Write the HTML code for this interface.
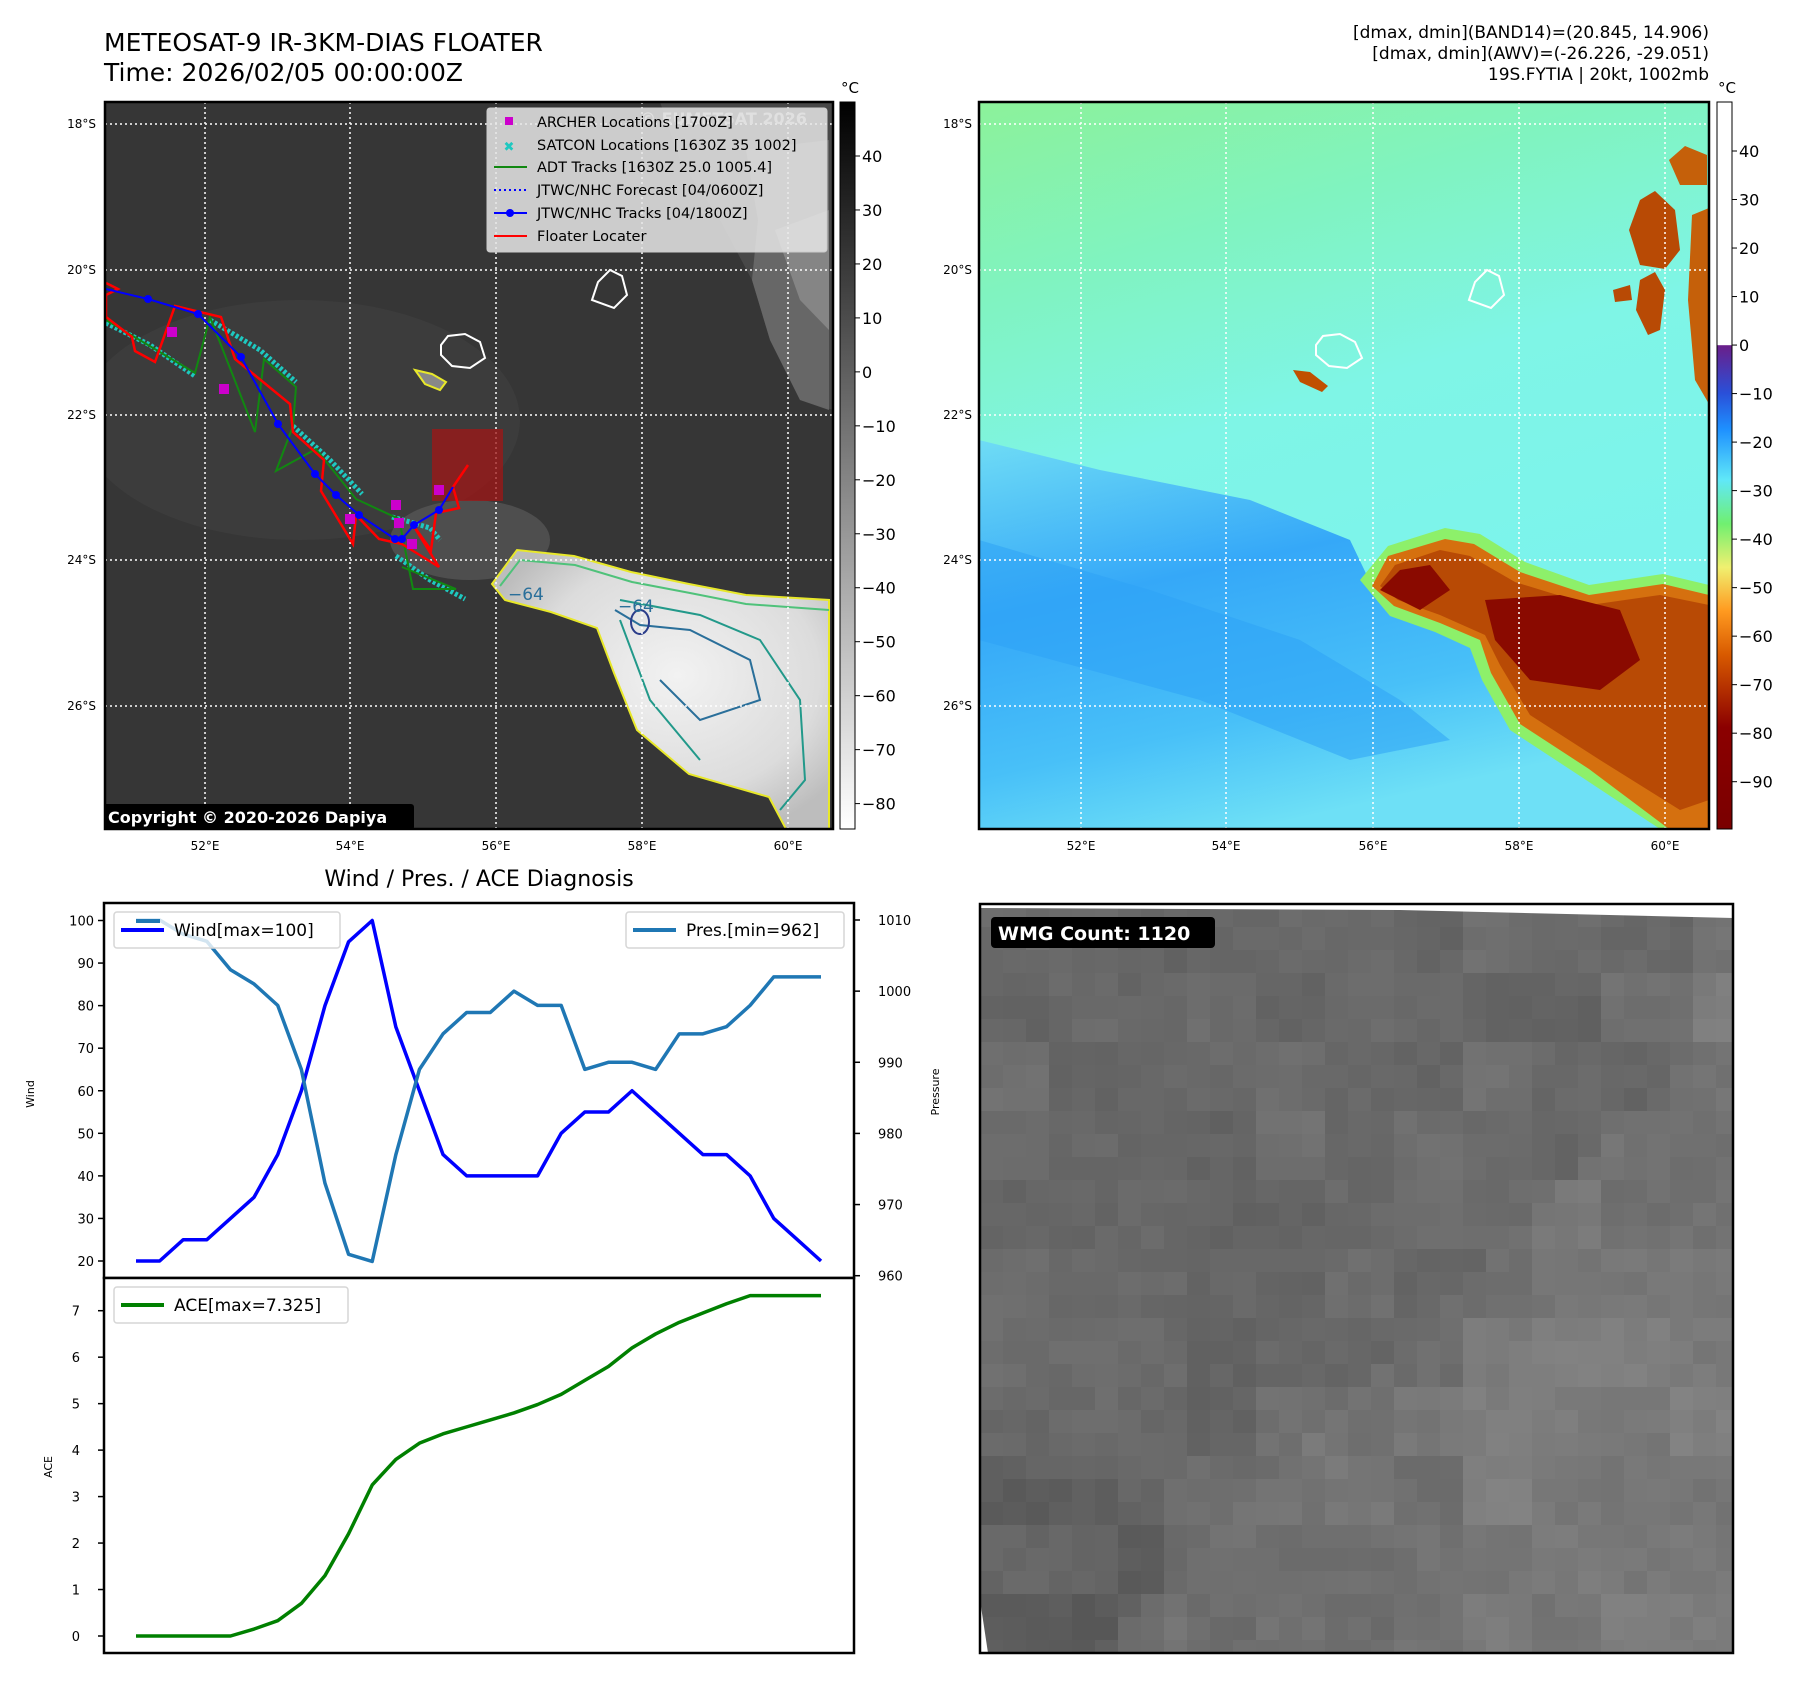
<!DOCTYPE html>
<html><head><meta charset="utf-8">
<style>
html,body{margin:0;padding:0;background:#fff;}
svg{display:block;font-family:"DejaVu Sans","Liberation Sans",sans-serif;}
</style></head>
<body>
<svg id="root" width="1797" height="1690" viewBox="0 0 1797 1690" xmlns="http://www.w3.org/2000/svg">
<defs>
  <linearGradient id="cb1" x1="0" y1="0" x2="0" y2="1">
    <stop offset="0" stop-color="#000"/><stop offset="1" stop-color="#fff"/>
  </linearGradient>
  <linearGradient id="cb2" x1="0" y1="0" x2="0" y2="1">
    <stop offset="0" stop-color="#fff"/><stop offset="0.334" stop-color="#fff"/>
    <stop offset="0.335" stop-color="#6a1f8a"/><stop offset="0.40" stop-color="#2a4fd8"/>
    <stop offset="0.45" stop-color="#1e90ff"/><stop offset="0.52" stop-color="#60e8f8"/>
    <stop offset="0.58" stop-color="#70f070"/><stop offset="0.64" stop-color="#f0f070"/>
    <stop offset="0.70" stop-color="#ff9a20"/><stop offset="0.76" stop-color="#d85a00"/>
    <stop offset="0.86" stop-color="#8b0000"/><stop offset="1" stop-color="#7a0000"/>
  </linearGradient>
  <linearGradient id="bg2" x1="0" y1="0" x2="0.3" y2="1">
    <stop offset="0" stop-color="#8cf29a"/><stop offset="0.25" stop-color="#80f3c0"/>
    <stop offset="0.5" stop-color="#7ff5e6"/><stop offset="1" stop-color="#7af2f0"/>
  </linearGradient>
  <linearGradient id="blue2" x1="0" y1="0" x2="0.4" y2="1">
    <stop offset="0" stop-color="#6fdcf5"/><stop offset="0.4" stop-color="#35a8f8"/>
    <stop offset="0.75" stop-color="#48c0f8"/><stop offset="1" stop-color="#6ee0f6"/>
  </linearGradient>
  <radialGradient id="cloud1" cx="0.55" cy="0.45" r="0.6">
    <stop offset="0" stop-color="#f2f2f2"/><stop offset="0.7" stop-color="#dcdcdc"/><stop offset="1" stop-color="#bdbdbd"/>
  </radialGradient>
  <clipPath id="clip1"><rect x="105" y="102" width="728" height="727"/></clipPath>
  <clipPath id="clip2"><rect x="979" y="102" width="730" height="727"/></clipPath>
  <clipPath id="clip3"><rect x="980" y="904" width="753" height="749"/></clipPath>
</defs>

<!-- Titles -->
<text x="104" y="51" font-size="25" fill="#000">METEOSAT-9 IR-3KM-DIAS FLOATER</text>
<text x="104" y="81" font-size="25" fill="#000">Time: 2026/02/05 00:00:00Z</text>
<g font-size="17" text-anchor="end" fill="#000">
  <text x="1709" y="38">[dmax, dmin](BAND14)=(20.845, 14.906)</text>
  <text x="1709" y="59">[dmax, dmin](AWV)=(-26.226, -29.051)</text>
  <text x="1709" y="80">19S.FYTIA | 20kt, 1002mb</text>
</g>

<!-- MAP 1 (IR gray) -->
<g id="map1">
  <g clip-path="url(#clip1)">
    <rect x="105" y="102" width="728" height="727" fill="#363636"/>
    <ellipse cx="300" cy="420" rx="220" ry="120" fill="#3e3e3e" opacity="0.7"/>
    <ellipse cx="470" cy="540" rx="80" ry="40" fill="#555" opacity="0.8"/>
    <path d="M660,102 L833,102 L833,410 L800,400 L770,340 L752,280 L720,220 L680,160 Z" fill="#4a4a4a" opacity="0.9"/>
    <path d="M746,150 L829,140 L829,410 L800,400 L770,340 L752,280 L758,220 Z" fill="#6a6a6a" opacity="0.9"/>
    <path d="M775,230 L829,210 L829,330 L800,300 Z" fill="#9a9a9a" opacity="0.6"/>
    <path d="M492,584 L517,550 L574,556 L631,572 L689,584 L746,595 L829,600 L829,829 L786,829 L769,797 L689,774 L637,730 L614,673 L597,628 L551,612 L505,600 Z" fill="url(#cloud1)" stroke="#e8e82a" stroke-width="2"/>
    <path d="M500,586 L520,560 L575,565 L632,582 L690,593 L746,604 L829,610" fill="none" stroke="#4fc27a" stroke-width="2"/>
    <path d="M620,600 L700,615 L760,640 L800,700 L805,780 L780,810 M620,620 L650,700 L700,760" fill="none" stroke="#22998a" stroke-width="2"/>
    <path d="M615,610 L640,625 L690,630 L750,660 L760,700 L700,720 L660,680" fill="none" stroke="#2a6f9a" stroke-width="2"/>
    <ellipse cx="640" cy="622" rx="9" ry="12" fill="none" stroke="#2b3d8a" stroke-width="2"/>
    <text x="508" y="600" font-size="17" fill="#2a6f9a">−64</text>
    <text x="618" y="612" font-size="17" fill="#2a6f9a">−64</text>
    <path d="M441,345 L448,336 L465,334 L480,342 L485,358 L470,368 L452,366 L441,355 Z" fill="none" stroke="#fff" stroke-width="2"/>
    <path d="M592,300 L598,282 L610,270 L622,276 L627,295 L614,308 Z" fill="none" stroke="#fff" stroke-width="2"/>
    <path d="M415,370 L432,374 L446,382 L440,390 L425,384 Z" fill="#888" stroke="#e8e82a" stroke-width="2"/>
    <g stroke="#fff" stroke-width="1.5" stroke-dasharray="2,3">
      <line x1="205" y1="102" x2="205" y2="829"/><line x1="350" y1="102" x2="350" y2="829"/>
      <line x1="496" y1="102" x2="496" y2="829"/><line x1="642" y1="102" x2="642" y2="829"/>
      <line x1="788" y1="102" x2="788" y2="829"/>
      <line x1="105" y1="124" x2="833" y2="124"/><line x1="105" y1="270" x2="833" y2="270"/>
      <line x1="105" y1="415" x2="833" y2="415"/><line x1="105" y1="560" x2="833" y2="560"/>
      <line x1="105" y1="706" x2="833" y2="706"/>
    </g>
    <rect x="432" y="429" width="71" height="72" fill="#a01515" opacity="0.75"/>
    <g fill="none" stroke="#1ec8c0" stroke-width="5" stroke-dasharray="3,2">
      <polyline points="106,323 150,345 195,376"/>
      <polyline points="210,320 260,350 296,382"/>
      <polyline points="293,426 330,460 362,494"/>
      <polyline points="396,556 430,580 465,599"/>
      <polyline points="392,517 410,522 430,528 440,540"/>
    </g>
    <polyline fill="none" stroke="#118811" stroke-width="2" points="106,320 195,373 210,317 255,432 264,359 296,387 293,426 276,471 316,449 356,499 399,519 413,589 456,589 402,567"/>
    <polyline fill="none" stroke="#ff0000" stroke-width="2.5" points="106,283 118,289 106,295 106,317 132,337 135,351 155,362 175,306 221,317 235,359 290,404 293,432 324,460 321,491 353,544 356,515 379,539 402,544 439,567 413,525 431,550 436,513 459,508 453,487 468,465"/>
    <polyline fill="none" stroke="#0000ff" stroke-width="2" points="106,289 148,299 198,314 241,357 278,424 315,474 336,495 359,515 395,539 402,539 414,525 439,510 453,487"/>
    <g fill="#0000ff">
      <circle cx="148" cy="299" r="4"/><circle cx="198" cy="314" r="4"/><circle cx="241" cy="357" r="4"/>
      <circle cx="278" cy="424" r="4"/><circle cx="315" cy="474" r="4"/><circle cx="336" cy="495" r="4"/>
      <circle cx="359" cy="515" r="4"/><circle cx="395" cy="539" r="4"/><circle cx="402" cy="539" r="4"/>
      <circle cx="414" cy="525" r="4"/><circle cx="439" cy="510" r="4"/>
    </g>
    <g fill="#cc00cc">
      <rect x="167" y="327" width="10" height="10"/><rect x="219" y="384" width="10" height="10"/>
      <rect x="391" y="500" width="10" height="10"/><rect x="434" y="485" width="10" height="10"/>
      <rect x="394" y="518" width="10" height="10"/><rect x="407" y="539" width="10" height="10"/>
      <rect x="345" y="514" width="10" height="10"/>
    </g>
    <text x="640" y="124" font-size="16" font-weight="bold" fill="#bbb">© EUMETSAT 2026</text>
    <g>
      <rect x="487" y="108" width="340" height="144" rx="3" fill="#e6e6e6" fill-opacity="0.85" stroke="#ccc"/>
      <rect x="505" y="117" width="8" height="8" fill="#cc00cc"/>
      <text x="509" y="151" font-size="13" fill="#1ec8c0" text-anchor="middle" font-weight="bold">✖</text>
      <line x1="494" y1="167" x2="527" y2="167" stroke="#118811" stroke-width="2"/>
      <line x1="494" y1="190" x2="527" y2="190" stroke="#0000ff" stroke-width="2" stroke-dasharray="2,3"/>
      <line x1="494" y1="213" x2="527" y2="213" stroke="#0000ff" stroke-width="2"/><circle cx="510" cy="213" r="4" fill="#0000ff"/>
      <line x1="494" y1="236" x2="527" y2="236" stroke="#ff0000" stroke-width="2"/>
      <g font-size="14.5" fill="#000">
        <text x="537" y="127">ARCHER Locations [1700Z]</text>
        <text x="537" y="150">SATCON Locations [1630Z 35 1002]</text>
        <text x="537" y="172">ADT Tracks [1630Z 25.0 1005.4]</text>
        <text x="537" y="195">JTWC/NHC Forecast [04/0600Z]</text>
        <text x="537" y="218">JTWC/NHC Tracks [04/1800Z]</text>
        <text x="537" y="241">Floater Locater</text>
      </g>
    </g>
    <rect x="102" y="804" width="312" height="26" rx="3" fill="#000"/>
    <text x="108" y="823" font-size="16" font-weight="bold" fill="#fff">Copyright © 2020-2026 Dapiya</text>
  </g>
  <rect x="105" y="102" width="728" height="727" fill="none" stroke="#000" stroke-width="2.5"/>
  <g font-size="12" fill="#000" text-anchor="end">
    <text x="96" y="128">18°S</text><text x="96" y="274">20°S</text><text x="96" y="419">22°S</text>
    <text x="96" y="564">24°S</text><text x="96" y="710">26°S</text>
  </g>
  <g font-size="12" fill="#000" text-anchor="middle">
    <text x="205" y="850">52°E</text><text x="350" y="850">54°E</text><text x="496" y="850">56°E</text>
    <text x="642" y="850">58°E</text><text x="788" y="850">60°E</text>
  </g>
  <rect x="840" y="102" width="15" height="727" fill="url(#cb1)" stroke="#000" stroke-width="1"/>
  <text x="850" y="93" font-size="15" text-anchor="middle">°C</text>
  <g id="cb1ticks" font-size="16" fill="#000"></g>
</g>

<!-- MAP 2 -->
<g id="map2">
  <g clip-path="url(#clip2)">
    <rect x="979" y="102" width="730" height="727" fill="url(#bg2)"/>
    <path d="M979,440 L1100,470 L1250,500 L1350,540 L1372,586 L1394,606 L1440,623 L1480,640 L1491,673 L1520,724 L1589,769 L1669,829 L979,829 Z" fill="url(#blue2)"/>
    <path d="M979,540 L1150,590 L1300,640 L1400,700 L1450,740 L1350,760 L1200,700 L979,640 Z" fill="#2ea2f6" opacity="0.55"/>
    <path d="M1360,580 L1388,546 L1445,528 L1480,534 L1525,562 L1589,585 L1663,574 L1709,585 L1709,829 L1660,829 L1580,776 L1510,730 L1482,680 L1470,648 L1435,632 L1390,616 Z" fill="#8df06a"/>
    <path d="M1372,586 L1388,556 L1445,539 L1474,544 L1520,572 L1589,595 L1663,584 L1709,595 L1709,829 L1669,829 L1589,769 L1520,724 L1491,673 L1480,640 L1440,623 L1394,606 Z" fill="#d5700f"/>
    <path d="M1380,586 L1395,565 L1440,550 L1470,556 L1515,582 L1590,605 L1660,595 L1709,605 L1709,800 L1680,810 L1600,760 L1530,715 L1500,665 L1485,635 L1440,615 L1398,600 Z" fill="#b84a05"/>
    <path d="M1485,600 L1560,595 L1620,610 L1640,660 L1600,690 L1530,680 L1495,640 Z" fill="#8a0a00"/>
    <path d="M1380,590 L1400,570 L1430,565 L1450,590 L1420,610 Z" fill="#8a0a00"/>
    <path d="M1629,230 L1640,200 L1655,191 L1675,210 L1680,250 L1665,269 L1640,265 Z" fill="#b84a05"/>
    <path d="M1669,160 L1685,146 L1707,155 L1707,185 L1680,185 Z" fill="#c5600a"/>
    <path d="M1692,215 L1709,208 L1709,404 L1695,380 L1688,300 Z" fill="#c5600a"/>
    <path d="M1640,280 L1655,272 L1665,290 L1660,330 L1648,335 L1636,310 Z" fill="#b84a05"/>
    <path d="M1613,290 L1630,285 L1632,300 L1615,302 Z" fill="#b84a05"/>
    <path d="M1293,370 L1310,372 L1328,386 L1322,392 L1300,382 Z" fill="#c05000"/>
    <path d="M1316,345 L1323,336 L1340,334 L1355,342 L1362,358 L1347,368 L1329,366 L1316,355 Z" fill="none" stroke="#fff" stroke-width="2"/>
    <path d="M1469,300 L1475,282 L1487,270 L1499,276 L1504,295 L1491,308 Z" fill="none" stroke="#fff" stroke-width="2"/>
    <g stroke="#fff" stroke-width="1.5" stroke-dasharray="2,3">
      <line x1="1081" y1="102" x2="1081" y2="829"/><line x1="1226" y1="102" x2="1226" y2="829"/>
      <line x1="1373" y1="102" x2="1373" y2="829"/><line x1="1519" y1="102" x2="1519" y2="829"/>
      <line x1="1665" y1="102" x2="1665" y2="829"/>
      <line x1="979" y1="124" x2="1709" y2="124"/><line x1="979" y1="270" x2="1709" y2="270"/>
      <line x1="979" y1="415" x2="1709" y2="415"/><line x1="979" y1="560" x2="1709" y2="560"/>
      <line x1="979" y1="706" x2="1709" y2="706"/>
    </g>
  </g>
  <rect x="979" y="102" width="730" height="727" fill="none" stroke="#000" stroke-width="2.5"/>
  <g font-size="12" fill="#000" text-anchor="end">
    <text x="972" y="128">18°S</text><text x="972" y="274">20°S</text><text x="972" y="419">22°S</text>
    <text x="972" y="564">24°S</text><text x="972" y="710">26°S</text>
  </g>
  <g font-size="12" fill="#000" text-anchor="middle">
    <text x="1081" y="850">52°E</text><text x="1226" y="850">54°E</text><text x="1373" y="850">56°E</text>
    <text x="1519" y="850">58°E</text><text x="1665" y="850">60°E</text>
  </g>
  <rect x="1717" y="102" width="15" height="727" fill="url(#cb2)" stroke="#000" stroke-width="1"/>
  <text x="1727" y="93" font-size="15" text-anchor="middle">°C</text>
  <g id="cb2ticks" font-size="16" fill="#000"></g>
</g>

<text x="479" y="886" font-size="22" text-anchor="middle">Wind / Pres. / ACE Diagnosis</text>
<g id="chart"></g>

<g>
  <rect x="980" y="904" width="753" height="749" fill="#fff"/>
  <g id="wmg" clip-path="url(#clip3)"></g>
  <rect x="980" y="904" width="753" height="749" fill="none" stroke="#000" stroke-width="2.5"/>
  <rect x="991" y="917" width="224" height="31" rx="4" fill="#000"/>
  <text x="998" y="940" font-size="19" font-weight="bold" fill="#fff">WMG Count: 1120</text>
</g>
</svg>
<script>
const steps = [0,1,2,3,4,5,6,7,8,9,10,11,12,13,14,15,16,17,18,19,20,21,22,23,24,25,26,27,28,29];
const windValues = [20,20,25,25,30,35,45,60,80,95,100,75,60,45,40,40,40,40,50,55,55,60,55,50,45,45,40,30,25,20];
const presValues = [1010,1010,1008,1007,1003,1001,998,989,973,963,962,977,989,994,997,997,1000,998,998,989,990,990,989,994,994,995,998,1002,1002,1002];
const aceValues = [0,0,0,0,0,0.15,0.33,0.7,1.3,2.2,3.25,3.8,4.15,4.35,4.5,4.65,4.8,4.98,5.2,5.5,5.8,6.2,6.5,6.75,6.95,7.15,7.325,7.325,7.325,7.325];
const windTicks = [20,30,40,50,60,70,80,90,100];
const presTicks = [960,970,980,990,1000,1010];
const aceTicks = [0,1,2,3,4,5,6,7];
const cb1TickLabels = [40,30,20,10,0,-10,-20,-30,-40,-50,-60,-70,-80];
const cb2TickLabels = [40,30,20,10,0,-10,-20,-30,-40,-50,-60,-70,-80,-90];

const NS = 'http://www.w3.org/2000/svg';
function mk(tag, attrs, parent){ const e=document.createElementNS(NS,tag); for(const k in attrs) e.setAttribute(k,attrs[k]); parent.appendChild(e); return e; }

const xScale = i => 136 + i * (821-136)/(steps.length-1);
const yWind = v => 1261 - (v-20) * (1261-920.5)/80;
const yPres = v => 1275.7 - (v-960) * (1275.7-920)/50;
const yAce = v => 1636 - v * (1636-1310.7)/7;
const yCb1 = v => 156 + (40 - v) * (803.6-156)/120;
const yCb2 = v => 151 + (40 - v) * (781.7-151)/130;

const cb1g = document.getElementById('cb1ticks');
cb1TickLabels.forEach(v=>{
  mk('line',{x1:855,x2:860,y1:yCb1(v),y2:yCb1(v),stroke:'#000'},cb1g);
  const t=mk('text',{x:862,y:yCb1(v)+6},cb1g); t.textContent=(v<0?'−'+(-v):v);
  
  
});
const cb2g = document.getElementById('cb2ticks');
cb2TickLabels.forEach(v=>{
  mk('line',{x1:1732,x2:1737,y1:yCb2(v),y2:yCb2(v),stroke:'#000'},cb2g);
  const t=mk('text',{x:1739,y:yCb2(v)+6},cb2g); t.textContent=(v<0?'−'+(-v):v);
  
  
});

const ch = document.getElementById('chart');
mk('rect',{x:104,y:903,width:750,height:375,fill:'#fff',stroke:'#000','stroke-width':2.5},ch);
mk('rect',{x:104,y:1278,width:750,height:375,fill:'#fff',stroke:'#000','stroke-width':2.5},ch);
windTicks.forEach(v=>{
  mk('line',{x1:98,x2:104,y1:yWind(v),y2:yWind(v),stroke:'#000','stroke-width':1.5},ch);
  const t=mk('text',{x:94,y:yWind(v)+5,'font-size':13,'text-anchor':'end'},ch); t.textContent=v;
  
  
});
presTicks.forEach(v=>{
  mk('line',{x1:854,x2:860,y1:yPres(v),y2:yPres(v),stroke:'#000','stroke-width':1.5},ch);
  const t=mk('text',{x:878,y:yPres(v)+5,'font-size':13},ch); t.textContent=v;
  
  
});
aceTicks.forEach(v=>{
  mk('line',{x1:98,x2:104,y1:yAce(v),y2:yAce(v),stroke:'#000','stroke-width':1.5},ch);
  const t=mk('text',{x:80,y:yAce(v)+5,'font-size':13,'text-anchor':'end'},ch); t.textContent=v;
  
  
});
let t1=mk('text',{x:0,y:0,'font-size':11,'text-anchor':'middle',transform:'translate(34,1094) rotate(-90)'},ch); t1.textContent='Wind';


let t2=mk('text',{x:0,y:0,'font-size':11,'text-anchor':'middle',transform:'translate(939,1092) rotate(-90)'},ch); t2.textContent='Pressure';


let t3=mk('text',{x:0,y:0,'font-size':11,'text-anchor':'middle',transform:'translate(52,1467) rotate(-90)'},ch); t3.textContent='ACE';



function line(vals, yf, color, name){
  const p=mk('polyline',{points:vals.map((v,i)=>xScale(i)+','+yf(v)).join(' '),fill:'none',stroke:color,'stroke-width':3.5,'stroke-linejoin':'round'},ch);
  
  
}
line(windValues,yWind,'#0000ff','wind-line');
line(presValues,yPres,'#1f77b4','pressure-line');
line(aceValues,yAce,'#008000','ace-line');

function legend(x,y,w,color,label,name){
  const g=mk('g',{},ch);
  
  
  mk('rect',{x:x,y:y,width:w,height:36,rx:3,fill:'#fff','fill-opacity':0.8,stroke:'#d6d6d6','stroke-width':1.5},g);
  mk('line',{x1:x+7,x2:x+50,y1:y+18,y2:y+18,stroke:color,'stroke-width':4},g);
  const t=mk('text',{x:x+60,y:y+24,'font-size':17},g); t.textContent=label;
}
legend(114,912,226,'#0000ff','Wind[max=100]','wind-legend');
legend(626,912,218,'#1f77b4','Pres.[min=962]','pressure-legend');
legend(114,1287,234,'#008000','ACE[max=7.325]','ace-legend');
mk('line',{x1:136,x2:160,y1:921,y2:921,stroke:'#1f77b4','stroke-width':4},ch);

// WMG gray texture (smoother, blocky regions)
const wg=document.getElementById('wmg');
let seed=7;
function rnd(){ seed=(seed*9301+49297)%233280; return seed/233280; }
const cs=23, N=33;
const coarse=[];
for(let r=0;r<=N/3+1;r++){ coarse.push([]); for(let c=0;c<=N/3+1;c++) coarse[r].push((rnd()-0.5)*14); }
for(let r=0;r<N;r++){
  for(let c=0;c<N;c++){
    const x=980+c*cs, y=904+r*cs;
    let base=106 + (c+r>36?8:0) + (c>20&&r>17?10:0) - (c<8&&r>24?8:0) + (c>30&&r<6?12:0);
    base += coarse[Math.floor(r/3)][Math.floor(c/3)];
    const g=Math.round(base + (rnd()-0.5)*8);
    mk('rect',{x:x,y:y,width:cs+1,height:cs+1,fill:`rgb(${g},${g},${g})`},wg);
  }
}
mk('polygon',{points:'980,904 1733,904 1733,918 1400,910 980,908',fill:'#fff'},wg);
mk('polygon',{points:'980,1600 988,1653 980,1653',fill:'#fff'},wg);
</script>
</body></html>
